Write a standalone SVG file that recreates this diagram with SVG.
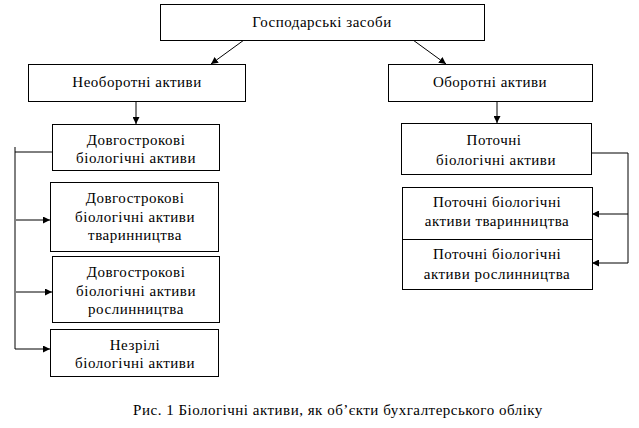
<svg xmlns="http://www.w3.org/2000/svg" width="639" height="428" viewBox="0 0 639 428">
<style>
.box{fill:#fff;stroke:#000;stroke-width:1}
.t{font-family:"Liberation Serif","Times New Roman","DejaVu Serif",serif;font-size:15px;letter-spacing:0.5px;fill:#000;text-anchor:middle}
.c{fill:none;stroke:#000;stroke-width:1}
</style>
<defs>
<marker id="ah" viewBox="0 0 10 10" refX="10" refY="5" markerWidth="7" markerHeight="7" markerUnits="userSpaceOnUse" orient="auto">
<path d="M0,0 L10,5 L0,10 z" fill="#000"/>
</marker>
</defs>
<rect width="639" height="428" fill="#fff"/>
<g id="connectors">
<line class="c" x1="244" y1="40" x2="211" y2="64" marker-end="url(#ah)"/>
<line class="c" x1="413" y1="40" x2="446" y2="64" marker-end="url(#ah)"/>
<line class="c" x1="136" y1="101" x2="136" y2="124" marker-end="url(#ah)"/>
<line class="c" x1="497" y1="101" x2="497" y2="123" marker-end="url(#ah)"/>
<polyline class="c" points="52,152 15,152 15,349"/>
<line class="c" x1="15" y1="147" x2="15" y2="152"/>
<line class="c" x1="16" y1="220" x2="50" y2="220" marker-end="url(#ah)"/>
<line class="c" x1="16" y1="292" x2="52" y2="292" marker-end="url(#ah)"/>
<line class="c" x1="15" y1="349" x2="50" y2="349" marker-end="url(#ah)"/>
<polyline class="c" points="592,153 628,153 628,263"/>
<line class="c" x1="628" y1="214" x2="592" y2="214" marker-end="url(#ah)"/>
<line class="c" x1="628" y1="263" x2="592" y2="263" marker-end="url(#ah)"/>
</g>
<g id="n-gospodarski">
<rect class="box" x="160.5" y="4.5" width="324" height="36"/>
<text class="t" x="322" y="27">Господарські засоби</text>
</g>
<g id="n-neoborotni">
<rect class="box" x="28.5" y="64.5" width="217" height="37"/>
<text class="t" x="137" y="87">Необоротні активи</text>
</g>
<g id="n-oborotni">
<rect class="box" x="388.5" y="64.5" width="204" height="37"/>
<text class="t" x="490" y="87">Оборотні активи</text>
</g>
<g id="n-dovgo">
<rect class="box" x="52.5" y="124.5" width="167" height="46"/>
<text class="t" x="136" y="145">Довгострокові</text>
<text class="t" x="136" y="163">біологічні активи</text>
</g>
<g id="n-dovgo-tv">
<rect class="box" x="50.5" y="182.5" width="168" height="69"/>
<text class="t" x="135" y="203">Довгострокові</text>
<text class="t" x="135" y="222">біологічні активи</text>
<text class="t" x="135" y="240">тваринництва</text>
</g>
<g id="n-dovgo-rosl">
<rect class="box" x="52.5" y="256.5" width="167" height="66"/>
<text class="t" x="136" y="277">Довгострокові</text>
<text class="t" x="136" y="296">біологічні активи</text>
<text class="t" x="136" y="314">рослинництва</text>
</g>
<g id="n-nezrili">
<rect class="box" x="50.5" y="329.5" width="168" height="47"/>
<text class="t" x="135" y="350">Незрілі</text>
<text class="t" x="135" y="368">біологічні активи</text>
</g>
<g id="n-potochni">
<rect class="box" x="401.5" y="123.5" width="190" height="51"/>
<text class="t" x="494" y="145">Поточні</text>
<text class="t" x="496" y="165">біологічні активи</text>
</g>
<g id="n-potochni-tv">
<rect class="box" x="402.5" y="187.5" width="190" height="52"/>
<text class="t" x="497" y="207">Поточні біологічні</text>
<text class="t" x="497" y="226">активи тваринництва</text>
</g>
<g id="n-potochni-rosl">
<rect class="box" x="402.5" y="239.5" width="190" height="50"/>
<text class="t" x="497" y="259">Поточні біологічні</text>
<text class="t" x="497" y="279">активи рослинництва</text>
</g>
<text class="t" x="338" y="415">Рис. 1 Біологічні активи, як об’єкти бухгалтерського обліку</text>
</svg>
